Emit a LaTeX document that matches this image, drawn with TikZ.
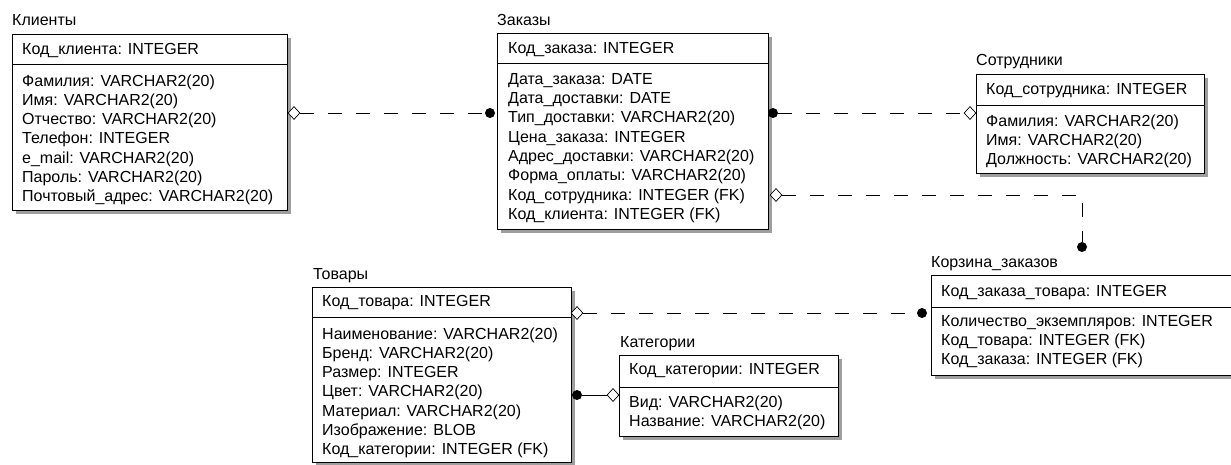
\documentclass[tikz,border=0pt]{standalone}
\usepackage{fontspec}
\setmainfont{Liberation Sans}
\usetikzlibrary{shapes.geometric}
\newcommand\erbox[5]{%
  \fill[shad] (#1+4,#2+4) rectangle (#3+4,#4+4);
  \draw[ent] (#1,#2) rectangle (#3,#4);
  \draw[ent] (#1,#5) -- (#3,#5);}
\begin{document}
\begin{tikzpicture}[x=1pt,y=-1pt,
  shad/.style={fill=black!38},
  ent/.style={draw=black,line width=0.9pt,fill=white},
  txt/.style={anchor=west,inner sep=0pt,font=\fontsize{16}{18}\selectfont,text height=11.5pt,text depth=3pt},
  rel/.style={line width=0.9pt,dash pattern=on 14pt off 14pt},
  relsolid/.style={line width=0.9pt},
  dia/.style={diamond,draw=black,fill=white,line width=0.7pt,inner sep=0pt,minimum width=12pt,minimum height=13pt},
  dot/.style={circle,fill=black,inner sep=0pt,minimum size=10pt}]
\useasboundingbox (0,0) rectangle (1231,464);
\begin{scope}
\clip (0,0) rectangle (1231,464);
% ---------- Клиенты
\node[txt] (tK) at (12,21) {Клиенты};
\erbox{12}{34}{287}{210}{64}
\node[txt] (k0) at (22,50) {Код\_клиента: INTEGER};
\node[txt] (k1) at (22,82) {Фамилия: VARCHAR2(20)};
\node[txt] (k2) at (22,101.2) {Имя: VARCHAR2(20)};
\node[txt] (k3) at (22,120.4) {Отчество: VARCHAR2(20)};
\node[txt] (k4) at (22,139.6) {Телефон: INTEGER};
\node[txt] (k5) at (22,158.8) {e\_mail: VARCHAR2(20)};
\node[txt] (k6) at (22,178) {Пароль: VARCHAR2(20)};
\node[txt] (k7) at (22,197.2) {Почтовый\_адрес: VARCHAR2(20)};
% ---------- Заказы
\node[txt] (tZ) at (497,21) {Заказы};
\erbox{497}{33}{768}{229}{63}
\node[txt] (z0) at (508,49) {Код\_заказа: INTEGER};
\node[txt] (z1) at (508,80) {Дата\_заказа: DATE};
\node[txt] (z2) at (508,99.3) {Дата\_доставки: DATE};
\node[txt] (z3) at (508,118.6) {Тип\_доставки: VARCHAR2(20)};
\node[txt] (z4) at (508,137.9) {Цена\_заказа: INTEGER};
\node[txt] (z5) at (508,157.2) {Адрес\_доставки: VARCHAR2(20)};
\node[txt] (z6) at (508,176.5) {Форма\_оплаты: VARCHAR2(20)};
\node[txt] (z7) at (508,195.8) {Код\_сотрудника: INTEGER (FK)};
\node[txt] (z8) at (508,215.1) {Код\_клиента: INTEGER (FK)};
% ---------- Сотрудники
\node[txt] (tS) at (976,61) {Сотрудники};
\erbox{976}{74}{1204}{173}{105}
\node[txt] (s0) at (986,90) {Код\_сотрудника: INTEGER};
\node[txt] (s1) at (986,122) {Фамилия: VARCHAR2(20)};
\node[txt] (s2) at (986,141) {Имя: VARCHAR2(20)};
\node[txt] (s3) at (986,160) {Должность: VARCHAR2(20)};
% ---------- Корзина_заказов
\node[txt] (tB) at (931,263) {Корзина\_заказов};
\erbox{931}{275}{1260}{375}{307}
\node[txt] (b0) at (941,292) {Код\_заказа\_товара: INTEGER};
\node[txt] (b1) at (941,322) {Количество\_экземпляров: INTEGER};
\node[txt] (b2) at (941,341) {Код\_товара: INTEGER (FK)};
\node[txt] (b3) at (941,360) {Код\_заказа: INTEGER (FK)};
% ---------- Товары
\node[txt] (tT) at (313,275) {Товары};
\erbox{312}{287}{571}{462}{317}
\node[txt] (t0) at (322,302) {Код\_товара: INTEGER};
\node[txt] (t1) at (322,335) {Наименование: VARCHAR2(20)};
\node[txt] (t2) at (322,354.2) {Бренд: VARCHAR2(20)};
\node[txt] (t3) at (322,373.4) {Размер: INTEGER};
\node[txt] (t4) at (322,392.6) {Цвет: VARCHAR2(20)};
\node[txt] (t5) at (322,411.8) {Материал: VARCHAR2(20)};
\node[txt] (t6) at (322,431) {Изображение: BLOB};
\node[txt] (t7) at (322,450.2) {Код\_категории: INTEGER (FK)};
% ---------- Категории
\node[txt] (tC) at (620,343) {Категории};
\erbox{619}{355}{838}{436}{387}
\node[txt] (c0) at (629,370) {Код\_категории: INTEGER};
\node[txt] (c1) at (629,403) {Вид: VARCHAR2(20)};
\node[txt] (c2) at (629,422) {Название: VARCHAR2(20)};
\end{scope}
% ---------- relationships
% Клиенты -> Заказы
\node[dia] (d1) at (294,113) {};
\node[dot] (e1) at (490,113) {};
\draw[rel] (d1.east) -- (e1.west);
% Сотрудники -> Заказы
\node[dot] (e2) at (773,113) {};
\node[dia] (d2) at (970,113) {};
\draw[rel] (e2.east) -- (d2.west);
% Заказы -> Корзина
\node[dia] (d3) at (776,195) {};
\coordinate (r3) at (1082,195);
\node[dot] (e3) at (1082,247) {};
\draw[rel] (d3.east) -- (r3) -- (e3.north);
% Товары -> Корзина
\node[dia] (d4) at (577,313) {};
\node[dot] (e4) at (922,313) {};
\draw[rel] (d4.east) -- (e4.west);
% Категории -> Товары
\node[dot] (e5) at (577,395) {};
\node[dia] (d5) at (613,395) {};
\draw[relsolid] (e5.east) -- (d5.west);
\end{tikzpicture}
\end{document}
